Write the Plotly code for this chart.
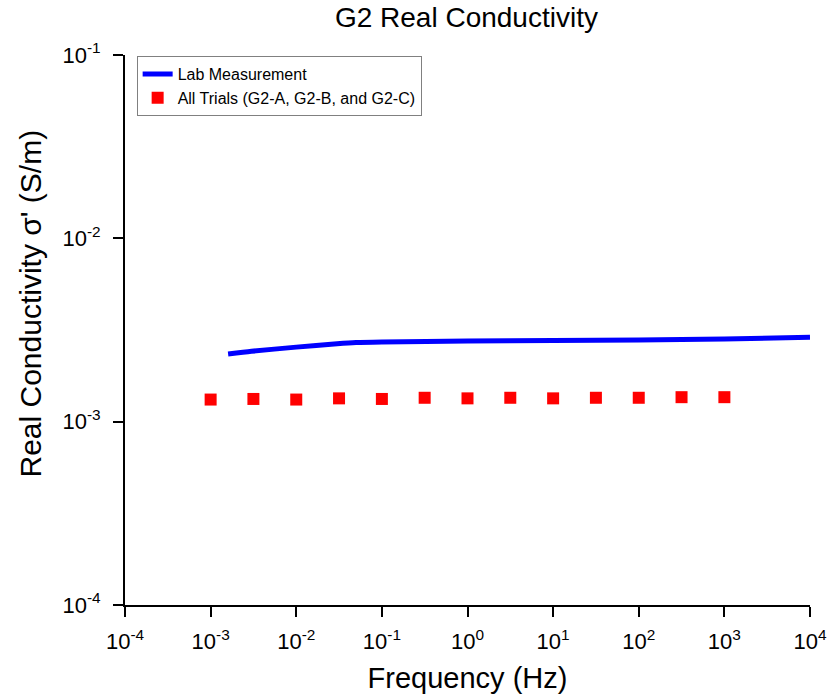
import plotly.graph_objects as go

# Lab measurement (continuous curve)
lab_freq = [1.6e-3, 3e-3, 1e-2, 3e-2, 5e-2, 1e-1, 1e0, 1e1, 1e2, 1e3, 1e4]
lab_sigma = [2.34e-3, 2.42e-3, 2.55e-3, 2.66e-3, 2.70e-3, 2.72e-3, 2.75e-3, 2.77e-3, 2.79e-3, 2.82e-3, 2.89e-3]

# All trials (squares)
trial_freq = [1e-3, 3.16e-3, 1e-2, 3.16e-2, 1e-1, 3.16e-1, 1e0, 3.16e0, 1e1, 3.16e1, 1e2, 3.16e2, 1e3]
trial_sigma = [1.32e-3, 1.33e-3, 1.32e-3, 1.34e-3, 1.33e-3, 1.35e-3, 1.34e-3, 1.35e-3, 1.34e-3, 1.35e-3, 1.35e-3, 1.36e-3, 1.36e-3]

x_tickvals = [1e-4, 1e-3, 1e-2, 1e-1, 1e0, 1e1, 1e2, 1e3, 1e4]
x_ticktext = ["10<sup>-4</sup>", "10<sup>-3</sup>", "10<sup>-2</sup>", "10<sup>-1</sup>", "10<sup>0</sup>",
              "10<sup>1</sup>", "10<sup>2</sup>", "10<sup>3</sup>", "10<sup>4</sup>"]
y_tickvals = [1e-4, 1e-3, 1e-2, 1e-1]
y_ticktext = ["10<sup>-4</sup>", "10<sup>-3</sup>", "10<sup>-2</sup>", "10<sup>-1</sup>"]

FONT = "Liberation Sans, Arial, sans-serif"

fig = go.Figure()
fig.add_trace(go.Scatter(
    x=lab_freq, y=lab_sigma, mode="lines", name="Lab Measurement",
    line=dict(color="#0000ff", width=5, shape="spline", smoothing=0.6),
))
fig.add_trace(go.Scatter(
    x=trial_freq, y=trial_sigma, mode="markers", name="All Trials (G2-A, G2-B, and G2-C)",
    marker=dict(symbol="square", size=12, color="#ff0000", line=dict(width=0)),
))

fig.update_layout(
    width=830, height=698,
    margin=dict(l=125, r=20, t=55, b=93, autoexpand=False),
    paper_bgcolor="white", plot_bgcolor="white",
    font=dict(family=FONT, color="black"),
    title=dict(text="G2 Real Conductivity", x=0.562, xanchor="center", y=0.99, yanchor="top",
               font=dict(size=28, family=FONT, color="black")),
    showlegend=True,
    legend=dict(x=0.017, y=0.998, xanchor="left", yanchor="top",
                bordercolor="#808080", borderwidth=1, bgcolor="white",
                font=dict(size=16, family=FONT, color="black"),
                tracegroupgap=0, itemwidth=30),
    xaxis=dict(
        type="log", range=[-4, 4], automargin=False,
        tickvals=x_tickvals, ticktext=x_ticktext,
        ticks="outside", ticklen=10, tickwidth=2, tickcolor="black",
        showline=True, linecolor="black", linewidth=2, mirror=False,
        showgrid=False, zeroline=False, ticklabelstandoff=6,
        tickfont=dict(size=22, family=FONT, color="black"),
        title=dict(text="Frequency (Hz)", font=dict(size=29, family=FONT, color="black"), standoff=14),
    ),
    yaxis=dict(
        type="log", range=[-4, -1], automargin=False,
        tickvals=y_tickvals, ticktext=y_ticktext,
        ticks="outside", ticklen=10, tickwidth=2, tickcolor="black",
        showline=True, linecolor="black", linewidth=2, mirror=False,
        showgrid=False, zeroline=False, ticklabelstandoff=8,
        tickfont=dict(size=22, family=FONT, color="black"),
    ),
    annotations=[dict(
        text="Real Conductivity σ' (S/m)", textangle=-90,
        xref="paper", yref="paper", x=-0.138, y=0.549, xanchor="center", yanchor="middle",
        showarrow=False, font=dict(size=30, family=FONT, color="black"),
    )],
)

fig.write_html("out.html")
